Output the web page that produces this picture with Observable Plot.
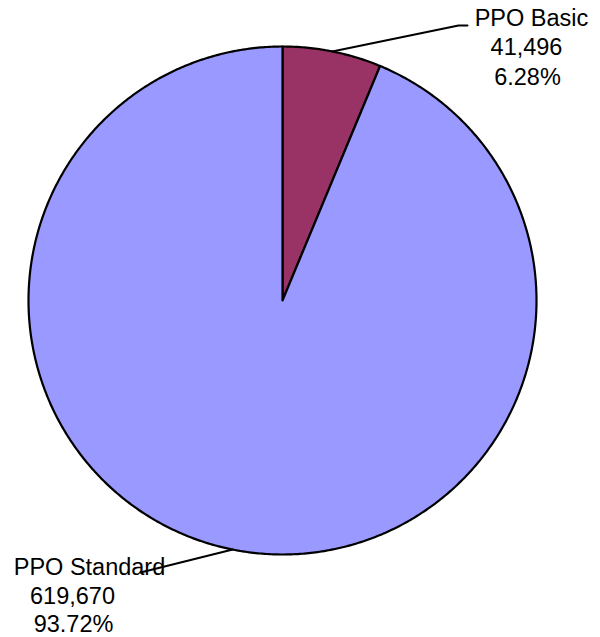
<!DOCTYPE html>
<html>
<head>
<meta charset="utf-8">
<script src="https://cdn.jsdelivr.net/npm/d3@7"></script>
<script src="https://cdn.jsdelivr.net/npm/@observablehq/plot@0.6"></script>
<style>
  html, body { margin: 0; padding: 0; background: #fff; }
  #chart svg { display: block; }
</style>
</head>
<body>
<div id="chart"></div>
<script>
// ---- data ----
const names = ["PPO Basic", "PPO Standard"];
const counts = [41496, 619670];
const shares = ["6.28%", "93.72%"];
const colors = ["#993366", "#9999FF"];

// ---- layout ----
const W = 600, H = 637;
const cx = 282, cy = 300, r = 254;
const FONT = 23.5;
// label line positions (name, count, share) per slice, in px
const labelPos = [
  {name: [531, 18], count: [526, 47], share: [527, 77], elbow: [[458, 25], [467, 25]]},
  {name: [89, 567], count: [72, 596], share: [73, 624], elbow: [[140, 572]]}
];

const pie = d3.pie().sort(null).value(d => d)(counts);

const slicePts = [];
pie.forEach((p, i) => {
  slicePts.push({name: names[i], x: cx, y: cy});
  const n = Math.max(2, Math.ceil((p.endAngle - p.startAngle) / (Math.PI / 360)));
  for (let k = 0; k <= n; k++) {
    const t = p.startAngle + (p.endAngle - p.startAngle) * k / n;
    slicePts.push({name: names[i], x: cx + r * Math.sin(t), y: cy - r * Math.cos(t)});
  }
});

const leaders = [];
const texts = [];
pie.forEach((p, i) => {
  const m = (p.startAngle + p.endAngle) / 2;
  leaders.push({name: names[i], x: cx + r * Math.sin(m), y: cy - r * Math.cos(m)});
  labelPos[i].elbow.forEach(([x, y]) => leaders.push({name: names[i], x, y}));
  const L = labelPos[i];
  texts.push({t: names[i], x: L.name[0], y: L.name[1]});
  texts.push({t: d3.format(",")(counts[i]), x: L.count[0], y: L.count[1]});
  texts.push({t: shares[i], x: L.share[0], y: L.share[1]});
});

const chart = Plot.plot({
  width: W, height: H,
  margin: 0,
  x: {domain: [0, W], range: [0, W], axis: null},
  y: {domain: [0, H], range: [0, H], axis: null},
  color: {domain: names, range: colors},
  style: {fontFamily: "Arial, 'Liberation Sans', sans-serif", background: "#fff"},
  marks: [
    Plot.line(slicePts, {x: "x", y: "y", z: "name", fill: "name", stroke: "black", strokeWidth: 2.2, curve: "linear-closed", strokeLinejoin: "round"}),
    Plot.line(leaders, {x: "x", y: "y", z: "name", stroke: "black", strokeWidth: 2}),
    Plot.text(texts, {x: "x", y: "y", text: "t", fontSize: FONT, fill: "black", textAnchor: "middle", lineAnchor: "middle"})
  ]
});
document.getElementById("chart").appendChild(chart);
</script>
</body>
</html>
